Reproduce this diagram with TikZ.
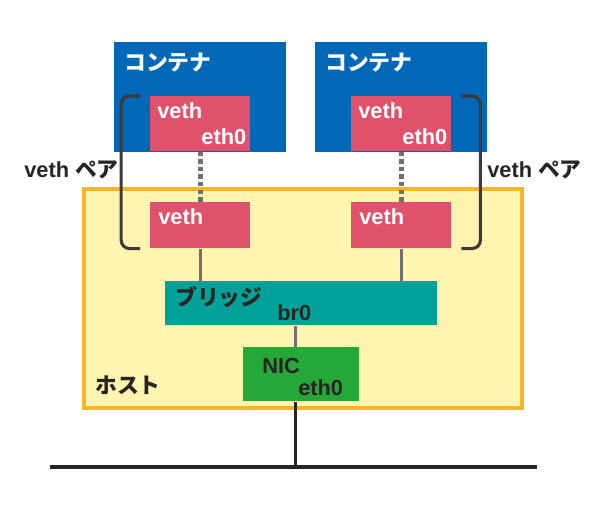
\documentclass[tikz,border=0pt]{standalone}
\usepackage{fontspec}
\setmainfont{Liberation Sans}
\newfontfamily\jp{Noto Sans CJK JP}
\usetikzlibrary{positioning, calc}
\definecolor{ctncolor}{RGB}{0,104,183}
\definecolor{vethcolor}{RGB}{224,82,107}
\definecolor{brcolor}{RGB}{0,161,153}
\definecolor{niccolor}{RGB}{38,168,56}
\definecolor{hostfill}{RGB}{255,244,176}
\definecolor{hostborder}{RGB}{247,181,44}
\definecolor{linkgray}{RGB}{113,112,113}
\definecolor{inkcolor}{RGB}{40,36,35}
\tikzset{
    box/.style={rectangle, inner sep=0pt, anchor=north west},
    ctnbox/.style={box, fill=ctncolor, minimum width=4.3cm, minimum height=2.75cm},
    vethbox/.style={box, fill=vethcolor, minimum width=2.5cm},
    lbl/.style={anchor=west, inner sep=0pt, font=\fontsize{15.5}{15.5}\selectfont\bfseries},
    jplbl/.style={anchor=west, inner sep=0pt, font=\fontsize{15.5}{15.5}\selectfont\jp\bfseries},
    pairline/.style={line width=2.2pt, draw=inkcolor!90, rounded corners=6pt},
    link/.style={line width=2.2pt, draw=linkgray},
    vlink/.style={line width=3.4pt, draw=linkgray, dash pattern=on 3.2pt off 2.2pt},
    net/.style={line width=2.2pt, draw=inkcolor}
}

\begin{document}
\begin{tikzpicture}[x=0.025cm, y=-0.025cm]
    \useasboundingbox (0,0) rectangle (600,513);

    % containers
    \node[ctnbox] (ctnA) at (114,42) {};
    \node[ctnbox] (ctnB) at (315,42) {};
    \node[jplbl, white] (ctnAlbl) at ([shift={(10,21)}]ctnA.north west) {コンテナ};
    \node[jplbl, white] (ctnBlbl) at ([shift={(10,21)}]ctnB.north west) {コンテナ};

    % host
    \node[box, fill=hostfill, draw=hostborder, line width=2.8pt,
        minimum width=10.95cm, minimum height=5.475cm] (host) at (82,187) {};
    \node[jplbl, inkcolor] (hostlbl) at (95,385) {ホスト};

    % veth pairs
    \node[vethbox, minimum height=1.375cm] (vethA) at (150,96) {};
    \node[vethbox, minimum height=1.375cm] (vethB) at (351,96) {};
    \node[vethbox, minimum height=1.15cm] (hvethA) at (150,202) {};
    \node[vethbox, minimum height=1.15cm] (hvethB) at (351,202) {};
    \foreach \v in {vethA, vethB} {
        \node[lbl, white] at ([shift={(7,15)}]\v.north west) {veth};
        \node[lbl, white, anchor=east] at ([shift={(-4,-15)}]\v.south east) {eth0};
    }
    \foreach \v in {hvethA, hvethB} {
        \node[lbl, white] at ([shift={(8,15)}]\v.north west) {veth};
    }

    % bridge and nic
    \node[box, fill=brcolor, minimum width=6.8cm, minimum height=1.1cm] (bridge) at (165,281) {};
    \node[jplbl, inkcolor] (brlbl) at ([shift={(10,16)}]bridge.north west) {ブリッジ};
    \node[lbl, inkcolor] (brname) at ([shift={(112,32)}]bridge.north west) {br0};
    \node[box, fill=niccolor, minimum width=2.9cm, minimum height=1.35cm] (nic) at (243,347) {};
    \node[lbl, inkcolor] (niclbl) at ([shift={(19,19)}]nic.north west) {NIC};
    \node[lbl, inkcolor] (nicname) at ([shift={(55,41)}]nic.north west) {eth0};

    % pair labels
    \node[lbl, inkcolor] (pairA) at (24,170) {veth {\jp ペア}};
    \node[lbl, inkcolor] (pairB) at (487,170) {veth {\jp ペア}};

    % brackets
    \draw[pairline] ([xshift=-7]vethA.north west) -- ++(-19,0) |- ([xshift=-7]hvethA.south west);
    \draw[pairline] ([xshift=7]vethB.north east) -- ++(19,0) |- ([xshift=7]hvethB.south east);

    % links
    \draw[vlink] (vethA) -- (hvethA);
    \draw[vlink] (vethB) -- (hvethB);
    \draw[link] (hvethA.south) -- (hvethA.south |- bridge.north);
    \draw[link] (hvethB.south) -- (hvethB.south |- bridge.north);
    \draw[link] ([xshift=-4]nic.north) -- ([xshift=-4]nic.north |- bridge.south);

    % network
    \coordinate (netL) at (50,467);
    \coordinate (netR) at (537,467);
    \draw[net] ([xshift=-4]nic.south) -- ([xshift=-4]nic.south |- netL);
    \draw[net] (netL) -- (netR);

\end{tikzpicture}
\end{document}
